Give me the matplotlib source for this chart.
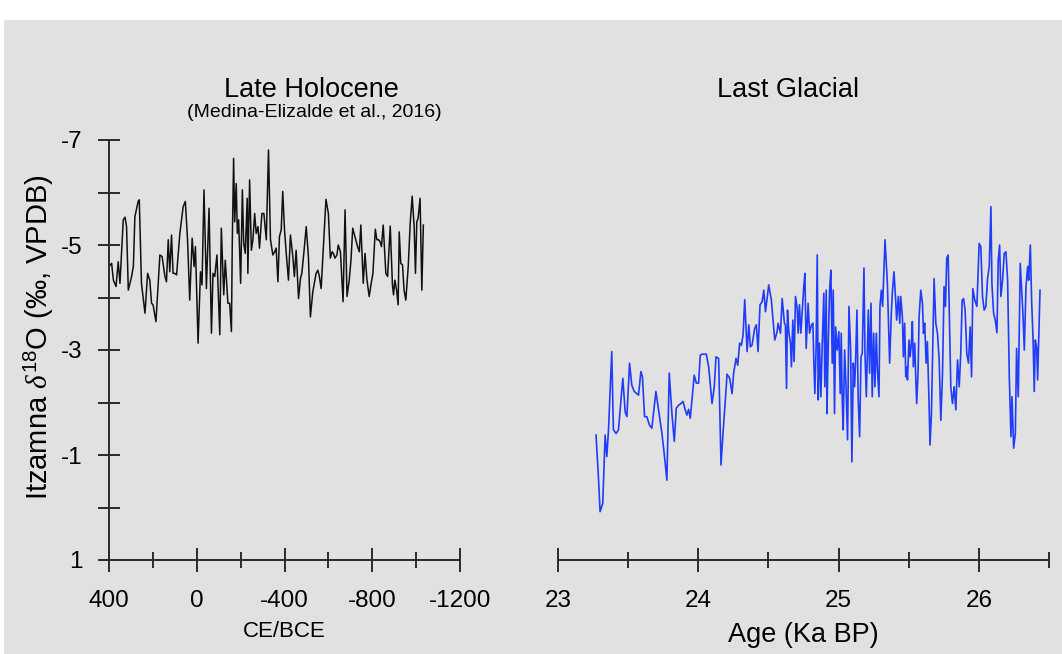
import matplotlib.pyplot as plt
from matplotlib.patches import Rectangle

plt.rcParams['font.family'] = ['Liberation Sans', 'DejaVu Sans']
plt.rcParams['mathtext.fontset'] = 'custom'
plt.rcParams['mathtext.rm'] = 'Liberation Sans'
plt.rcParams['mathtext.it'] = 'Liberation Serif:italic'
plt.rcParams['axes.unicode_minus'] = False

# Late Holocene record (year CE/BCE, d18O permil)
holo_year = [400, 388, 380, 368, 358, 350, 335, 327, 320, 312, 297, 289, 282, 267, 262,
             252, 236, 224, 214, 206, 199, 186, 168, 158, 145, 138, 130, 123, 115, 108,
             100, 92, 77, 62, 52, 42, 32, 21, 12, 6, -6, -17, -24, -33, -44,
             -56, -67, -74, -82, -92, -105, -112, -123, -130, -142, -150, -158, -162, -168, -173,
             -180, -185, -191, -200, -208, -214, -221, -230, -233, -241, -249, -256, -264, -271, -279,
             -286, -297, -306, -317, -327, -336, -347, -355, -362, -370, -377, -385, -392, -400, -408,
             -418, -427, -438, -445, -453, -464, -473, -479, -488, -499, -509, -518, -529, -536, -544,
             -552, -559, -567, -579, -589, -600, -609, -617, -623, -630, -639, -645, -655, -667, -676,
             -685, -695, -703, -711, -721, -733, -741, -748, -759, -767, -776, -786, -794, -803, -814,
             -821, -829, -836, -842, -850, -858, -862, -870, -882, -892, -897, -903, -911, -918, -923,
             -930, -938, -945, -953, -964, -973, -982, -991, -997, -1003, -1009, -1018, -1026, -1033]
holo_d18o = [-4.59, -4.65, -4.33, -4.21, -4.68, -4.27, -5.48, -5.53, -5.35, -4.14, -4.40, -4.59, -5.54, -5.83, -5.86,
             -4.27, -3.70, -4.46, -4.33, -3.89, -3.86, -3.54, -4.81, -4.78, -4.40, -4.30, -5.10, -4.49, -5.19, -4.46,
             -4.46, -4.43, -5.22, -5.73, -5.83, -5.10, -3.95, -5.13, -4.59, -4.97, -3.13, -4.49, -4.24, -6.05, -4.17,
             -5.70, -3.32, -4.46, -4.40, -4.81, -3.29, -5.32, -4.05, -4.71, -3.89, -3.89, -3.35, -5.06, -6.65, -5.44,
             -6.17, -5.22, -5.48, -4.27, -6.05, -5.03, -4.84, -5.89, -4.46, -6.24, -4.90, -5.10, -5.60, -5.22, -5.35,
             -4.94, -5.60, -5.60, -5.10, -6.81, -5.10, -4.81, -4.87, -4.94, -4.30, -5.16, -5.29, -6.02, -5.29, -4.84,
             -4.33, -5.19, -4.78, -4.40, -4.90, -3.98, -4.37, -4.46, -4.84, -5.35, -4.78, -3.63, -4.11, -4.27, -4.46,
             -4.52, -4.40, -4.17, -5.10, -5.87, -5.60, -4.75, -4.87, -4.84, -4.75, -4.81, -5.00, -4.87, -3.92, -5.67,
             -4.02, -4.33, -4.71, -5.32, -5.16, -4.97, -4.87, -5.38, -4.27, -4.84, -4.33, -4.02, -4.24, -4.46, -5.30,
             -5.10, -5.10, -5.06, -4.97, -5.38, -4.75, -4.46, -4.40, -5.36, -4.24, -4.05, -4.33, -4.14, -3.86, -5.25,
             -4.65, -4.62, -4.14, -3.95, -4.59, -5.41, -5.93, -5.35, -4.46, -5.44, -5.51, -5.89, -4.14, -5.38]

# Last Glacial record (age ka BP, d18O permil)
glacial_age = [23.271, 23.288, 23.300, 23.319, 23.336, 23.348, 23.360, 23.383, 23.395, 23.414,
               23.431, 23.462, 23.479, 23.491, 23.510, 23.526, 23.543, 23.562, 23.574, 23.591,
               23.602, 23.617, 23.633, 23.652, 23.669, 23.698, 23.717, 23.741, 23.757, 23.776,
               23.793, 23.812, 23.829, 23.843, 23.860, 23.876, 23.891, 23.907, 23.919, 23.931,
               23.943, 23.955, 23.971, 23.986, 24.002, 24.014, 24.026, 24.057, 24.074, 24.098,
               24.114, 24.126, 24.145, 24.162, 24.176, 24.193, 24.205, 24.224, 24.241, 24.252,
               24.269, 24.281, 24.295, 24.307, 24.319, 24.331,
               24.348, 24.360, 24.371, 24.383, 24.402, 24.414, 24.426, 24.440, 24.455, 24.467,
               24.479, 24.502, 24.521, 24.545, 24.562, 24.569, 24.586, 24.598, 24.614, 24.621,
               24.629, 24.636, 24.645, 24.657, 24.664, 24.674, 24.683, 24.693, 24.705, 24.712,
               24.721, 24.731, 24.740, 24.752, 24.760, 24.769, 24.783, 24.793, 24.807, 24.817,
               24.824, 24.831, 24.840, 24.848, 24.855, 24.864, 24.874, 24.883, 24.895, 24.902,
               24.912, 24.917, 24.926, 24.936, 24.945, 24.955, 24.962, 24.971, 24.979, 24.990,
               25.002, 25.012, 25.019, 25.026, 25.033, 25.043, 25.052, 25.064, 25.074, 25.086,
               25.095, 25.105, 25.114, 25.121, 25.131, 25.140, 25.150, 25.160, 25.169, 25.181,
               25.188, 25.198, 25.212, 25.221, 25.231, 25.240, 25.250, 25.259, 25.269, 25.276,
               25.288, 25.295, 25.305, 25.314, 25.331, 25.348, 25.364, 25.376, 25.383, 25.395,
               25.407, 25.414, 25.426, 25.436, 25.443,
               25.455, 25.462, 25.471, 25.479, 25.486, 25.491, 25.502, 25.510, 25.519, 25.526,
               25.533, 25.543, 25.550, 25.557, 25.567, 25.574, 25.586, 25.598, 25.605, 25.614,
               25.624, 25.633, 25.645, 25.652, 25.662, 25.671, 25.681, 25.693, 25.705, 25.717,
               25.729, 25.741, 25.752, 25.762, 25.771, 25.781, 25.791, 25.800, 25.812, 25.824,
               25.836, 25.848, 25.860, 25.871, 25.881, 25.891, 25.902, 25.914, 25.926, 25.938,
               25.948, 25.957, 25.971, 25.986, 26.002, 26.014, 26.026, 26.038, 26.050, 26.062,
               26.074, 26.086, 26.093, 26.105, 26.117, 26.129, 26.138, 26.148, 26.157, 26.169,
               26.181, 26.193, 26.205, 26.217, 26.229, 26.236, 26.248, 26.260, 26.269, 26.281,
               26.295, 26.305, 26.314, 26.324, 26.336, 26.348, 26.355, 26.367, 26.376, 26.386,
               26.395, 26.402, 26.412, 26.419, 26.426, 26.436]
glacial_d18o = [-1.38, -0.59, 0.08, -0.08, -1.38, -0.97, -1.48, -2.97, -1.48, -1.41,
                -1.48, -2.46, -1.82, -1.73, -2.75, -2.33, -2.21, -2.17, -2.14, -2.59,
                -2.49, -1.73, -1.73, -1.57, -1.51, -2.21, -1.86, -1.41, -1.03, -0.52,
                -2.56, -1.79, -1.26, -1.89, -1.95, -1.98, -2.02, -1.86, -1.76, -1.87,
                -1.70, -2.05, -2.52, -2.37, -2.37, -2.90, -2.92, -2.92, -2.68, -1.98,
                -2.30, -2.87, -2.84, -0.81, -1.41, -2.05, -2.54, -2.46, -2.17, -2.56,
                -2.84, -2.71, -3.13, -3.09, -3.28, -3.96,
                -2.97, -3.48, -3.06, -3.09, -3.41, -3.48, -2.97, -3.86, -3.92, -4.14,
                -3.73, -4.24, -3.95, -3.19, -3.35, -3.51, -3.32, -3.98, -3.51, -3.48,
                -2.27, -3.76, -3.35, -3.13, -2.68, -3.57, -2.78, -4.02, -3.79, -3.32,
                -3.86, -3.32, -3.70, -4.21, -4.46, -3.03, -3.89, -3.32, -3.48, -3.51,
                -2.75, -2.17, -3.06, -4.81, -2.05, -3.13, -2.11, -3.06, -4.08, -2.30,
                -4.14, -1.79, -3.06, -4.14, -4.52, -2.75, -4.14, -1.79, -3.44, -3.00,
                -3.35, -2.17, -3.32, -2.05, -1.48, -3.00, -2.40, -1.29, -3.83, -3.00,
                -0.87, -2.75, -2.30, -2.75, -3.76, -2.05, -1.35, -2.87, -2.94, -4.56,
                -2.94, -2.11, -3.76, -2.56, -3.89, -2.11, -3.32, -2.30, -3.32, -2.68,
                -2.11, -3.83, -4.14, -3.83, -5.10, -4.27, -2.75, -3.70, -4.08, -4.49,
                -3.95, -3.57, -4.02, -3.51, -4.02,
                -3.63, -2.87, -3.51, -2.49, -2.68, -2.43, -3.19, -2.87, -3.13, -3.54,
                -2.68, -3.13, -2.49, -1.98, -2.62, -3.63, -4.14, -3.89, -3.32, -3.51,
                -2.75, -3.16, -1.98, -1.19, -1.79, -3.06, -4.36, -3.51, -3.32, -2.81,
                -1.66, -2.56, -4.21, -3.83, -4.75, -4.81, -3.44, -2.30, -1.98, -2.30,
                -1.86, -2.81, -2.30, -2.94, -3.95, -3.98, -3.76, -2.94, -2.75, -3.44,
                -2.49, -4.17, -3.95, -3.83, -5.03, -4.97, -4.02, -3.76, -3.83, -4.36,
                -4.59, -5.73, -4.27, -3.70, -3.57, -3.33, -4.71, -5.00, -4.02, -4.33,
                -4.84, -4.87, -4.33, -2.49, -1.35, -2.11, -1.13, -1.41, -3.03, -2.11,
                -4.65, -4.14, -3.70, -3.00, -4.21, -4.59, -4.33, -5.00, -3.95, -3.25,
                -2.21, -3.19, -3.06, -2.43, -3.13, -4.14]

d18o_ticks = [-7, -5, -3, -1, 1]
d18o_minor = [-6, -4, -2, 0]
year_ticks = [400, 0, -400, -800, -1200]
year_minor = [200, -200, -600, -1000]
age_ticks = [23, 24, 25, 26]
age_labels = ['23', '24', '25', '26']
age_minor = [23.5, 24.5, 25.5, 26.5]

W, H = 1062, 654
BG = '#e1e1e1'
AX = '#2b2b2b'


def fx(px):
    return px / W


def fy(py):
    return 1 - py / H


fig = plt.figure(figsize=(W / 100, H / 100), dpi=100)
fig.patch.set_facecolor('white')
fig.add_artist(Rectangle((fx(4), 0), 1, fy(20), transform=fig.transFigure,
                         facecolor=BG, edgecolor='none', zorder=0))

# left panel
ax1 = fig.add_axes([fx(109), fy(560), fx(460) - fx(109), fy(140) - fy(560)])
ax1.set_facecolor('none')
ax1.plot(holo_year, holo_d18o, color='#111111', lw=1.1)
ax1.set_xlim(400, -1200)
ax1.set_ylim(1, -7)
ax1.set_xticks(year_ticks)
ax1.set_xticks(year_minor, minor=True)
ax1.set_yticks(d18o_ticks)
ax1.set_yticks(d18o_minor, minor=True)
for s in ['top', 'right']:
    ax1.spines[s].set_visible(False)
for s in ['left', 'bottom']:
    ax1.spines[s].set_linewidth(1.4)
    ax1.spines[s].set_color(AX)
ax1.tick_params(axis='y', which='both', direction='inout', length=16.5, width=1.4,
                color=AX, pad=11, labelsize=17.5)
ax1.tick_params(axis='x', which='major', direction='inout', length=17, width=1.4,
                color=AX, pad=13, labelsize=17.5)
ax1.tick_params(axis='x', which='minor', direction='inout', length=11, width=1.4, color=AX)

# right panel
ax2 = fig.add_axes([fx(558), fy(560), fx(1049) - fx(558), fy(140) - fy(560)])
ax2.set_facecolor('none')
ax2.plot(glacial_age, glacial_d18o, color='#1f3cff', lw=1.2)
ax2.set_xlim(23, 26.5)
ax2.set_ylim(1, -7)
ax2.set_xticks(age_ticks, age_labels)
ax2.set_xticks(age_minor, minor=True)
ax2.set_yticks([])
for s in ['top', 'right', 'left']:
    ax2.spines[s].set_visible(False)
ax2.spines['bottom'].set_linewidth(1.4)
ax2.spines['bottom'].set_color(AX)
ax2.tick_params(axis='x', which='major', direction='inout', length=17, width=1.4,
                color=AX, pad=13, labelsize=17.5)
ax2.tick_params(axis='x', which='minor', direction='inout', length=11, width=1.4, color=AX)

# titles and labels
fig.text(fx(311), fy(97), 'Late Holocene', fontsize=19.5, ha='center', va='baseline')
fig.text(fx(314), fy(117), '(Medina-Elizalde et al., 2016)', fontsize=14,
         ha='center', va='baseline')
fig.text(fx(788), fy(97), 'Last Glacial', fontsize=19.5, ha='center', va='baseline')
fig.text(fx(284), fy(637), 'CE/BCE', fontsize=16, ha='center', va='baseline')
fig.text(fx(803), fy(642), 'Age (Ka BP)', fontsize=19.5, ha='center', va='baseline')
fig.text(fx(39), fy(337), 'Itzamna $\\mathit{\\delta}^{18}$O (‰, VPDB)', fontsize=21,
         rotation=90, ha='center', va='center')

fig.savefig('out.png', dpi=100, facecolor=fig.get_facecolor())
